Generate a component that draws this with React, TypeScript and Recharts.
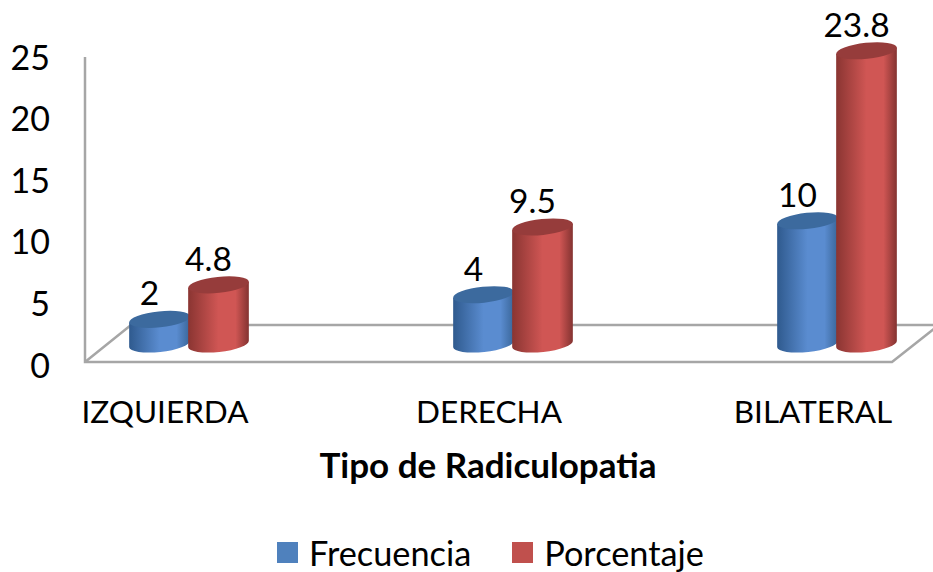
import React from "react";
import { BarChart, Bar, XAxis, YAxis, Legend, LabelList } from "recharts";

const categories = ["IZQUIERDA", "DERECHA", "BILATERAL"];
const frecuencia = [2, 4, 10];
const porcentaje = [4.8, 9.5, 23.8];
const yTicks = [0, 5, 10, 15, 20, 25];

const chartData = categories.map((name, i) => ({
    name,
    Frecuencia: frecuencia[i],
    Porcentaje: porcentaje[i],
}));

const FONT = "Lato, sans-serif";
const WALL = "#a6a6a6";

// the source is a clipped 3D chart, so the band scale runs past the right edge
const CHART_W = 999;
const CHART_H = 572;
const TILT = 6;
const RY = 8;

const palette = {
    blue: { edge: "#2f5a8e", mid: "#5a8cd0", far: "#3a6699", top: "#3c6a9e" },
    red: { edge: "#8a3532", mid: "#d05654", far: "#843331", top: "#963c3b" },
};

function Floor() {
    return (
        <g stroke={WALL} strokeWidth={2.5} fill="none">
            <path d="M85 57 L85 362 L892 362 L940 324" />
            <path d="M85 362 L131 325 L940 325" />
        </g>
    );
}

function Cylinder(props: any) {
    const { x, y, width, height, tone } = props;
    const c = palette[tone as "blue" | "red"];
    const rx = width / 2;
    const cx = x + rx;
    const rad = (TILT * Math.PI) / 180;
    const dx = rx * Math.cos(rad);
    const dy = rx * Math.sin(rad);
    const base = y + height;
    const id = `cyl-${tone}`;
    return (
        <g>
            <defs>
                <linearGradient id={id} x1="0" x2="1" y1="0" y2="0">
                    <stop offset="0%" stopColor={c.edge} />
                    <stop offset="50%" stopColor={c.mid} />
                    <stop offset="78%" stopColor={c.mid} />
                    <stop offset="100%" stopColor={c.far} />
                </linearGradient>
            </defs>
            <path
                d={`M${cx - dx} ${y + dy} L${cx - dx} ${base + dy} A${rx} ${RY} ${-TILT} 0 0 ${cx + dx} ${base - dy} L${cx + dx} ${y - dy} Z`}
                fill={`url(#${id})`}
            />
            <ellipse
                cx={cx}
                cy={y}
                rx={rx}
                ry={RY}
                fill={c.top}
                transform={`rotate(${-TILT} ${cx} ${y})`}
            />
        </g>
    );
}

function YTick(props: any) {
    return (
        <text
            x={50}
            y={props.y + 20}
            textAnchor="end"
            dominantBaseline="central"
            fontFamily={FONT}
            fontSize={34}
            fill="#000"
        >
            {props.payload.value}
        </text>
    );
}

function XTick(props: any) {
    return (
        <text
            x={props.x - 24}
            y={411}
            textAnchor="middle"
            dominantBaseline="central"
            fontFamily={FONT}
            fontSize={31.5}
            fill="#000"
        >
            {props.payload.value}
        </text>
    );
}

function LegendRow(props: any) {
    return (
        <div
            style={{
                display: "flex",
                alignItems: "center",
                fontFamily: FONT,
                fontSize: 34.3,
                color: "#000",
                height: 40,
                paddingLeft: 277,
            }}
        >
            {props.payload.map((item: any) => (
                <span
                    key={item.value}
                    style={{ display: "flex", alignItems: "center", marginRight: 41 }}
                >
                    <span
                        style={{
                            width: 21,
                            height: 21,
                            background: item.value === "Frecuencia" ? "#4f81bd" : "#c0504d",
                            marginRight: 11,
                        }}
                    />
                    {item.value}
                </span>
            ))}
        </div>
    );
}

export default function App() {
    return (
        <div
            style={{
                position: "absolute",
                left: 0,
                top: 0,
                width: 933,
                height: 572,
                overflow: "hidden",
                background: "#fff",
            }}
        >
            <BarChart
                width={CHART_W}
                height={CHART_H}
                data={chartData}
                margin={{ top: 36, right: 0, bottom: 0, left: 0 }}
                barSize={61}
                barGap={-2}
            >
                <Floor />
                <XAxis
                    dataKey="name"
                    height={188}
                    axisLine={false}
                    tickLine={false}
                    tick={<XTick />}
                    label={{
                        value: "Tipo de Radiculopatia",
                        position: "insideTop",
                        dx: -25,
                        dy: 104,
                        fontFamily: FONT,
                        fontSize: 35,
                        fontWeight: 700,
                        fill: "#000",
                    }}
                />
                <YAxis
                    width={27}
                    domain={[0, 25]}
                    ticks={yTicks}
                    axisLine={false}
                    tickLine={false}
                    tick={<YTick />}
                />
                <Legend verticalAlign="bottom" height={40} content={<LegendRow />} />
                <Bar
                    dataKey="Frecuencia"
                    fill="#4f81bd"
                    isAnimationActive={false}
                    shape={<Cylinder tone="blue" />}
                >
                    <LabelList
                        dataKey="Frecuencia"
                        position="top"
                        offset={14}
                        dx={-10}
                        fontFamily={FONT}
                        fontSize={33.5}
                        fill="#000"
                    />
                </Bar>
                <Bar
                    dataKey="Porcentaje"
                    fill="#c0504d"
                    isAnimationActive={false}
                    shape={<Cylinder tone="red" />}
                >
                    <LabelList
                        dataKey="Porcentaje"
                        position="top"
                        offset={14}
                        dx={-10}
                        fontFamily={FONT}
                        fontSize={33.5}
                        fill="#000"
                    />
                </Bar>
            </BarChart>
        </div>
    );
}
